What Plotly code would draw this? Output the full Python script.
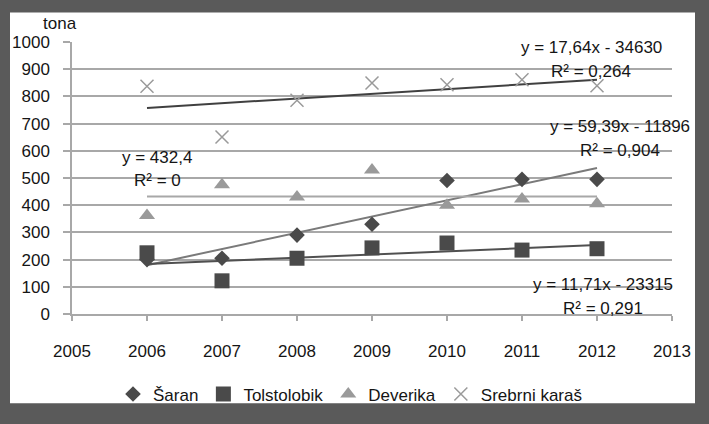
import numpy as np
import plotly.graph_objects as go

years = [2006, 2007, 2008, 2009, 2010, 2011, 2012]
saran = [200, 205, 290, 330, 491, 495, 495]
tolstolobik = [225, 122, 205, 243, 261, 235, 240]
deverika = [362, 475, 430, 529, 400, 423, 405]
srebrni = [837, 651, 786, 849, 843, 861, 839]

x_ticks = [2005, 2006, 2007, 2008, 2009, 2010, 2011, 2012, 2013]
y_ticks = [0, 100, 200, 300, 400, 500, 600, 700, 800, 900, 1000]

eq_saran = ["y = 59,39x - 11896", "R² = 0,904"]
eq_tolst = ["y = 11,71x - 23315", "R² = 0,291"]
eq_dever = ["y = 432,4", "R² = 0"]
eq_srebr = ["y = 17,64x - 34630", "R² = 0,264"]

FONT = "Liberation Sans"
TXT = "#151515"

series = [
    ("Šaran", saran, "diamond", 12, "#4a4a4a", "#7a7a7a", 1),
    ("Tolstolobik", tolstolobik, "square", 15, "#4a4a4a", "#505050", 1),
    ("Deverika", deverika, "triangle-up", 14, "#9a9a9a", "#a8a8a8", 0),
    ("Srebrni karaš", srebrni, "x-thin", 13, "#9a9a9a", "#404040", 1),
]

fig = go.Figure()

# trend lines
xa = np.array(years, dtype=float)
for name, vals, sym, size, col, tcol, deg in series:
    coef = np.polyfit(xa - xa.mean(), np.array(vals, dtype=float), deg)
    xs = np.array([years[0], years[-1]], dtype=float)
    ys = np.polyval(coef, xs - xa.mean())
    fig.add_trace(go.Scatter(x=xs, y=ys, mode="lines", showlegend=False,
                             line=dict(color=tcol, width=2), hoverinfo="skip"))

for name, vals, sym, size, col, tcol, deg in series:
    marker = dict(symbol=sym, size=size, color=col)
    if sym == "x-thin":
        marker["line"] = dict(color=col, width=1.5)
    fig.add_trace(go.Scatter(x=years, y=vals, mode="markers", name=name,
                             marker=marker))

L, R, T, B = 72, 37, 42, 105
W, H = 709, 424
pw, ph = W - L - R, H - T - B


def px(x):
    return (x - L) / pw


def py(y):
    return (H - B - y) / ph


fig.add_shape(type="rect", xref="paper", yref="paper",
              x0=px(10), x1=px(695), y0=py(410), y1=py(12),
              fillcolor="white", line=dict(width=0), layer="below")


def eq(lines, cx, cy1, cy2):
    for t, cy in zip(lines, (cy1, cy2)):
        fig.add_annotation(xref="paper", yref="paper", x=px(cx), y=py(cy),
                           text=t, showarrow=False, xanchor="center",
                           yanchor="middle", font=dict(size=17, color=TXT, family=FONT))


eq(eq_srebr, 591, 48, 72)
eq(eq_saran, 620, 128, 153)
eq(eq_dever, 157, 160, 183)
eq(eq_tolst, 603, 289, 313)

fig.add_annotation(xref="paper", yref="paper", x=px(60), y=py(23), text="tona",
                   showarrow=False, xanchor="center", yanchor="middle",
                   font=dict(size=17, color=TXT, family=FONT))

grid = "#a8a8a8"
fig.update_layout(
    width=W, height=H,
    margin=dict(l=L, r=R, t=T, b=B, pad=0),
    paper_bgcolor="#5a5a5a", plot_bgcolor="white",
    font=dict(family=FONT, size=17, color=TXT),
    xaxis=dict(range=[2005, 2013], tickvals=x_ticks, ticktext=[str(v) for v in x_ticks],
               showgrid=False, zeroline=False, showline=True, linecolor=grid, linewidth=1.5,
               ticks="outside", ticklen=5, tickcolor=grid, tickwidth=1.5,
               ticklabelstandoff=16, tickfont=dict(size=17, color=TXT)),
    yaxis=dict(range=[0, 1000], tickvals=y_ticks, showgrid=True, gridcolor=grid, gridwidth=1.5,
               zeroline=False, showline=True, linecolor=grid, linewidth=1.5,
               ticks="outside", ticklen=7, tickcolor=grid, tickwidth=1.5,
               ticklabelstandoff=10, tickfont=dict(size=17, color=TXT)),
    legend=dict(orientation="h", x=px(350), xanchor="center", y=py(401), yanchor="middle",
                bgcolor="rgba(0,0,0,0)", font=dict(size=17, color=TXT, family=FONT),
                itemwidth=30, tracegroupgap=0),
    showlegend=True,
)

fig.write_html("out.html")
